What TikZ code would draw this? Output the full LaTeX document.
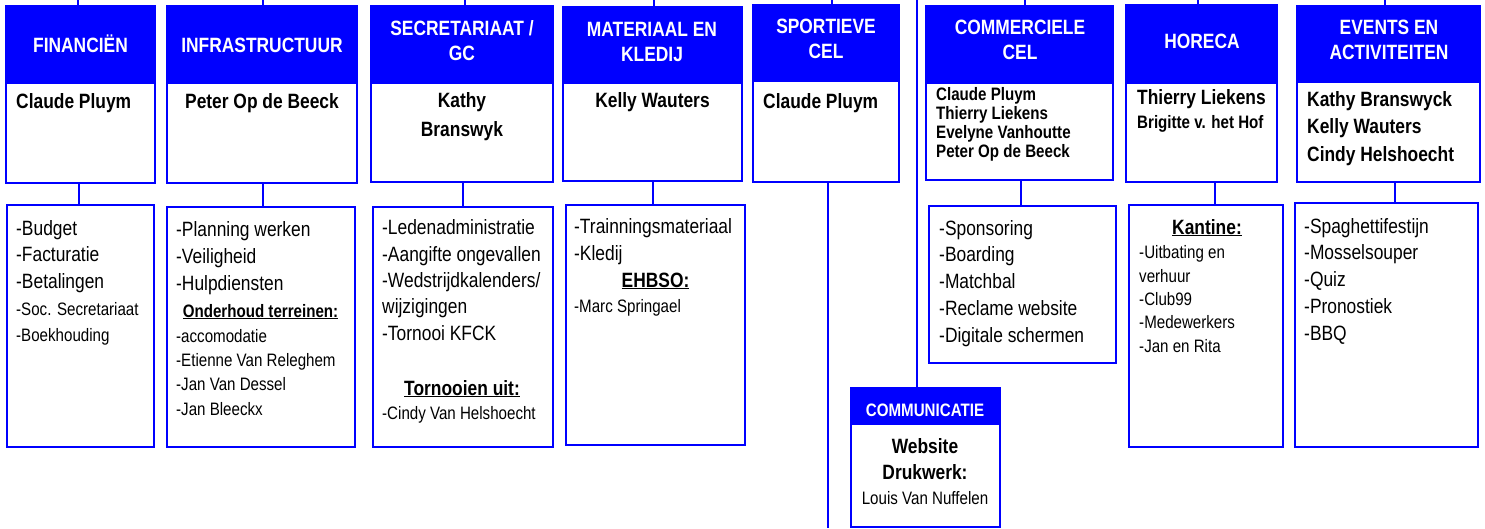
\documentclass[tikz,border=0pt]{standalone}
\usepackage{fontspec}
\setmainfont[FakeStretch=0.84]{Liberation Sans}
\newcommand{\groot}{\fontsize{20.7}{26.5}\selectfont}
\newcommand{\klein}{\fontsize{18}{24}\selectfont}
\tikzset{
	kader/.style={draw=blue, fill=white, line width=2pt, inner sep=0, outer sep=0, anchor=north west},
	kop/.style={kader, fill=blue},
	lijn/.style={blue, line width=2pt},
	titel/.style={text=white, font=\fontsize{20.7}{25}\selectfont\bfseries, align=center, anchor=base, inner sep=0},
	naam/.style={font=\groot\bfseries, align=left, anchor=base west, inner sep=0},
	taak/.style={font=\groot, align=left, anchor=base west, inner sep=0},
	taakk/.style={font=\klein, align=left, anchor=base west, inner sep=0},
	sub/.style={font=\groot\bfseries, anchor=base, inner sep=0},
}

\begin{document}
\begin{tikzpicture}[x=1pt, y=-1pt]
	\useasboundingbox (0,0) rectangle (1485,528);
	% cellen
	\node[kader, minimum width=149, minimum height=177] (fin) at (6,6) {};
	\node[kop, minimum width=149, minimum height=77] (finkop) at (6,6) {};
	\node[kader, minimum width=190, minimum height=177] (inf) at (167,6) {};
	\node[kop, minimum width=190, minimum height=77] (infkop) at (167,6) {};
	\node[kader, minimum width=182, minimum height=176] (sec) at (371,6) {};
	\node[kop, minimum width=182, minimum height=77] (seckop) at (371,6) {};
	\node[kader, minimum width=179, minimum height=174] (mat) at (563,7) {};
	\node[kop, minimum width=179, minimum height=76] (matkop) at (563,7) {};
	\node[kader, minimum width=146, minimum height=177] (spo) at (753,5) {};
	\node[kop, minimum width=146, minimum height=76] (spokop) at (753,5) {};
	\node[kader, minimum width=187, minimum height=174] (cmc) at (926,6) {};
	\node[kop, minimum width=187, minimum height=77] (cmckop) at (926,6) {};
	\node[kader, minimum width=151, minimum height=177] (hor) at (1126,5) {};
	\node[kop, minimum width=151, minimum height=78] (horkop) at (1126,5) {};
	\node[kader, minimum width=183, minimum height=176] (evt) at (1297,6) {};
	\node[kop, minimum width=183, minimum height=76] (evtkop) at (1297,6) {};
	\node[kader, minimum width=149, minimum height=139] (com) at (851,388) {};
	\node[kop, minimum width=149, minimum height=36] (comkop) at (851,388) {};
	% taken
	\node[kader, minimum width=147, minimum height=242] (finl) at (7,205) {};
	\node[kader, minimum width=188, minimum height=240] (infl) at (167,207) {};
	\node[kader, minimum width=180, minimum height=240] (secl) at (373,207) {};
	\node[kader, minimum width=179, minimum height=240] (matl) at (566,205) {};
	\node[kader, minimum width=187, minimum height=157] (cmcl) at (929,206) {};
	\node[kader, minimum width=154, minimum height=242] (horl) at (1129,205) {};
	\node[kader, minimum width=183, minimum height=244] (evtl) at (1295,203) {};

	% lijnen naar boven
	\coordinate (t1) at (78,0);
	\coordinate (t2) at (263,0);
	\coordinate (t3) at (465,0);
	\coordinate (t4) at (654,0);
	\coordinate (t5) at (832,0);
	\coordinate (t6) at (917,0);
	\coordinate (t7) at (1025,0);
	\coordinate (t8) at (1198,0);
	\coordinate (t9) at (1385,0);
	\draw[lijn] (t1) -- (t1 |- finkop.north);
	\draw[lijn] (t2) -- (t2 |- infkop.north);
	\draw[lijn] (t3) -- (t3 |- seckop.north);
	\draw[lijn] (t4) -- (t4 |- matkop.north);
	\draw[lijn] (t5) -- (t5 |- spokop.north);
	\draw[lijn] (t6) -- (t6 |- comkop.north);
	\draw[lijn] (t7) -- (t7 |- cmckop.north);
	\draw[lijn] (t8) -- (t8 |- horkop.north);
	\draw[lijn] (t9) -- (t9 |- evtkop.north);
	% verbindingen
	\coordinate (v1) at (79,0);
	\coordinate (v2) at (263,0);
	\coordinate (v3) at (463,0);
	\coordinate (v4) at (653,0);
	\coordinate (v5) at (828,528);
	\coordinate (v6) at (1021,0);
	\coordinate (v7) at (1215,0);
	\coordinate (v8) at (1395,0);
	\draw[lijn] (v1 |- fin.south) -- (v1 |- finl.north);
	\draw[lijn] (v2 |- inf.south) -- (v2 |- infl.north);
	\draw[lijn] (v3 |- sec.south) -- (v3 |- secl.north);
	\draw[lijn] (v4 |- mat.south) -- (v4 |- matl.north);
	\draw[lijn] (v5 |- spo.south) -- (v5);
	\draw[lijn] (v6 |- cmc.south) -- (v6 |- cmcl.north);
	\draw[lijn] (v7 |- hor.south) -- (v7 |- horl.north);
	\draw[lijn] (v8 |- evt.south) -- (v8 |- evtl.north);

	% titels (base = laatste regel)
	\node[titel] (fint) at (80.5,52) {FINANCIËN};
	\node[titel] (inft) at (262,52) {INFRASTRUCTUUR};
	\node[titel] (sect) at (462,60) {SECRETARIAAT /\\GC};
	\node[titel] (matt) at (652,61) {MATERIAAL EN\\KLEDIJ};
	\node[titel] (spot) at (826,58) {SPORTIEVE\\CEL};
	\node[titel] (cmct) at (1020,59) {COMMERCIELE\\CEL};
	\node[titel] (hort) at (1202,48) {HORECA};
	\node[titel] (evtt) at (1389,59) {EVENTS EN\\ACTIVITEITEN};
	\node[titel, font=\klein\bfseries] (comt) at (925,416) {COMMUNICATIE};
	% namen
	\node[naam] at (16,108) {Claude Pluym};
	\node[naam, anchor=base] at (262,108) {Peter Op de Beeck};
	\node[naam, anchor=base, align=center, font=\fontsize{20.7}{29}\selectfont\bfseries] at (462,136) {Kathy\\Branswyk};
	\node[naam, anchor=base] at (652.5,107) {Kelly Wauters};
	\node[naam] at (763,108) {Claude Pluym};
	\node[naam, font=\fontsize{18}{19}\selectfont\bfseries] at (936,157) {Claude Pluym\\Thierry Liekens\\Evelyne Vanhoutte\\Peter Op de Beeck};
	\node[naam] at (1137,104) {Thierry Liekens};
	\node[naam, font=\klein\bfseries] at (1137,128) {Brigitte v. het Hof};
	\node[naam, font=\fontsize{20.7}{27.5}\selectfont\bfseries] at (1307,161) {Kathy Branswyck\\Kelly Wauters\\Cindy Helshoecht};
	% taken
	\node[taak] at (16,288) {-Budget\\-Facturatie\\-Betalingen};
	\node[taakk, font=\fontsize{18}{26}\selectfont] at (16,341) {-Soc. Secretariaat\\-Boekhouding};
	\node[taak, font=\fontsize{20.7}{27}\selectfont] at (176,290) {-Planning werken\\-Veiligheid\\-Hulpdiensten};
	\node[sub, font=\klein\bfseries] at (260.5,317) {\underline{Onderhoud terreinen:}};
	\node[taakk, font=\fontsize{18}{24.3}\selectfont] at (176,415) {-accomodatie\\-Etienne Van Releghem\\-Jan Van Dessel\\-Jan Bleeckx};
	\node[taak, font=\fontsize{20.7}{26.3}\selectfont] at (382,340) {-Ledenadministratie\\-Aangifte ongevallen\\-Wedstrijdkalenders/\\wijzigingen\\-Tornooi KFCK};
	\node[sub] at (462,395) {\underline{Tornooien uit:}};
	\node[taakk] at (382,419) {-Cindy Van Helshoecht};
	\node[taak, font=\fontsize{20.7}{27}\selectfont] at (574,260) {-Trainningsmateriaal\\-Kledij};
	\node[sub] at (655.5,287) {\underline{EHBSO:}};
	\node[taakk] at (574,312) {-Marc Springael};
	\node[taak, font=\fontsize{20.7}{26.75}\selectfont] at (939,342) {-Sponsoring\\-Boarding\\-Matchbal\\-Reclame website\\-Digitale schermen};
	\node[sub, align=center, font=\fontsize{20.7}{26}\selectfont\bfseries] at (925,479) {Website\\Drukwerk:};
	\node[sub, font=\klein] at (925,504) {Louis Van Nuffelen};
	\node[sub] at (1207,234) {\underline{Kantine:}};
	\node[taakk, font=\fontsize{18}{23.3}\selectfont] at (1139,352) {-Uitbating en\\verhuur\\-Club99\\-Medewerkers\\-Jan en Rita};
	\node[taak, font=\fontsize{20.7}{26.75}\selectfont] at (1304,340) {-Spaghettifestijn\\-Mosselsouper\\-Quiz\\-Pronostiek\\-BBQ};
\end{tikzpicture}
\end{document}
